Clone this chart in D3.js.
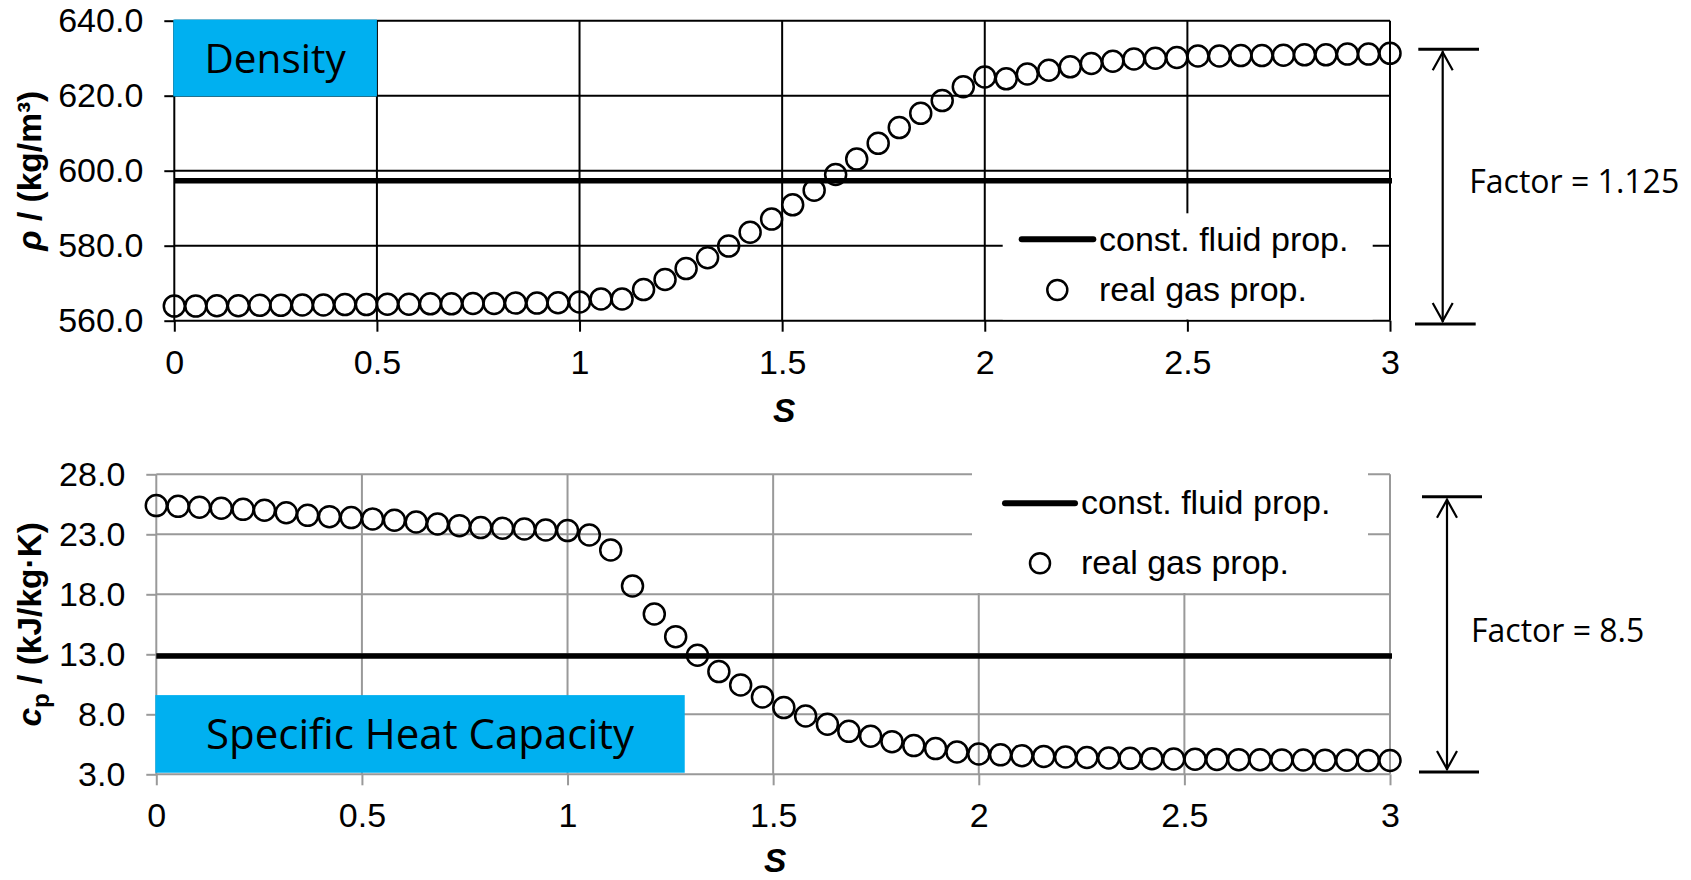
<!DOCTYPE html>
<html><head><meta charset="utf-8">
<script src="https://cdn.jsdelivr.net/npm/d3@7"></script>
<style>body{margin:0;background:#fff}svg{display:block}</style>
</head><body><svg id="c" width="1691" height="880"></svg>
<script>
// ---------------- data ----------------
const sValues = [0, 0.053, 0.105, 0.158, 0.211, 0.263, 0.316, 0.368, 0.421, 0.474,
  0.526, 0.579, 0.632, 0.684, 0.737, 0.789, 0.842, 0.895, 0.947, 1,
  1.053, 1.105, 1.158, 1.211, 1.263, 1.316, 1.368, 1.421, 1.474, 1.526,
  1.579, 1.632, 1.684, 1.737, 1.789, 1.842, 1.895, 1.947, 2,
  2.053, 2.105, 2.158, 2.211, 2.263, 2.316, 2.368, 2.421, 2.474, 2.526,
  2.579, 2.632, 2.684, 2.737, 2.789, 2.842, 2.895, 2.947, 3];
const densityValues = [563.9, 563.9, 564.0, 564.0, 564.1, 564.1, 564.2, 564.2, 564.3, 564.3,
  564.4, 564.4, 564.5, 564.5, 564.6, 564.6, 564.7, 564.7, 564.8, 565.0,
  565.8, 565.8, 568.3, 571.0, 573.9, 576.8, 579.9, 583.6, 587.1, 590.9,
  594.8, 599.0, 603.1, 607.3, 611.5, 615.3, 618.7, 622.4, 625.0,
  624.5, 625.8, 626.8, 627.7, 628.6, 629.2, 629.8, 630.0, 630.2, 630.6,
  630.6, 630.7, 630.7, 630.8, 630.9, 630.9, 631.1, 631.1, 631.3];
const cpValues = [25.39, 25.33, 25.25, 25.17, 25.08, 25.0, 24.8, 24.58, 24.47, 24.39,
  24.28, 24.17, 24.03, 23.86, 23.72, 23.56, 23.5, 23.44, 23.36, 23.31,
  22.94, 21.69, 18.69, 16.36, 14.47, 12.92, 11.56, 10.44, 9.44, 8.56,
  7.86, 7.17, 6.58, 6.17, 5.72, 5.39, 5.14, 4.86, 4.69,
  4.62, 4.55, 4.49, 4.44, 4.40, 4.36, 4.33, 4.30, 4.28, 4.26,
  4.24, 4.22, 4.21, 4.20, 4.19, 4.18, 4.17, 4.16, 4.15];
const densityConst = 597.3;
const cpConst = 12.86;
const xTicks = [0, 0.5, 1, 1.5, 2, 2.5, 3];
const densityTicks = [560, 580, 600, 620, 640];
const cpTicks = [3, 8, 13, 18, 23, 28];
const legendLabels = ["const. fluid prop.", "real gas prop."];
const densityTitle = "Density";
const cpTitle = "Specific Heat Capacity";
const densityFactor = "Factor = 1.125";
const cpFactor = "Factor = 8.5";
const densityBand = [559.12, 632.37];
const cpBand = [3.19, 26.13];
const densityBox = [[0, 0.5], [619.8, 640.3]];
const cpBox = [[0, 1.285], [3.13, 9.6]];

// ---------------- drawing ----------------
const svg = d3.select("#c");
const SANS = "'Liberation Sans', Arial, sans-serif";
const CAL = "'Open Sans', 'Noto Sans', sans-serif";
const FS = 34;

function panel(o) {
  const x = d3.scaleLinear().domain([0, 3]).range([o.left, o.right]);
  const y = d3.scaleLinear().domain(o.yDomain).range([o.bottom, o.top]);
  const g = svg.append("g");

  // gridlines
  g.append("g").selectAll("line").data(o.yTicks).join("line")
    .attr("x1", o.left).attr("x2", o.right)
    .attr("y1", d => y(d)).attr("y2", d => y(d))
    .attr("stroke", o.grid).attr("stroke-width", 2);
  g.append("g").selectAll("line").data(xTicks).join("line")
    .attr("y1", o.top).attr("y2", o.bottom)
    .attr("x1", d => x(d)).attr("x2", d => x(d))
    .attr("stroke", o.grid).attr("stroke-width", 2);

  // axes (outer ticks + labels)
  const ya = g.append("g").attr("transform", `translate(${o.left},0)`)
    .call(d3.axisLeft(y).tickValues(o.yTicks).tickSize(10).tickPadding(21).tickFormat(d3.format(".1f")));
  const xa = g.append("g").attr("transform", `translate(0,${o.bottom})`)
    .call(d3.axisBottom(x).tickValues(xTicks).tickSize(11).tickPadding(18).tickFormat(d3.format("")));
  [ya, xa].forEach(a => {
    a.select(".domain").remove();
    a.attr("font-family", SANS).attr("font-size", FS);
    a.selectAll("line").attr("stroke", o.grid).attr("stroke-width", 2);
    a.selectAll("text").attr("fill", "#000");
  });

  // constant line
  g.append("line")
    .attr("x1", x(0)).attr("x2", x(3) + 2)
    .attr("y1", y(o.constVal)).attr("y2", y(o.constVal))
    .attr("stroke", "#000").attr("stroke-width", 5.5);

  // real gas points
  g.append("g").selectAll("circle").data(sValues.map((s, i) => [s, o.values[i]])).join("circle")
    .attr("cx", d => x(d[0])).attr("cy", d => y(d[1])).attr("r", 10.5)
    .attr("fill", "none").attr("stroke", "#000").attr("stroke-width", 2.5);

  // legend
  const L = o.legend;
  g.append("rect").attr("x", L.box[0]).attr("y", L.box[1])
    .attr("width", L.box[2] - L.box[0]).attr("height", L.box[3] - L.box[1]).attr("fill", "#fff");
  g.append("line").attr("x1", L.line[0]).attr("x2", L.line[1]).attr("y1", L.line[2]).attr("y2", L.line[2])
    .attr("stroke", "#000").attr("stroke-width", 6).attr("stroke-linecap", "round");
  g.append("circle").attr("cx", L.circ[0]).attr("cy", L.circ[1]).attr("r", 10)
    .attr("fill", "none").attr("stroke", "#000").attr("stroke-width", 2.5);
  g.selectAll("text.leg").data(legendLabels).join("text").attr("class", "leg")
    .attr("x", L.textX).attr("y", (d, i) => L.textY[i])
    .attr("font-family", SANS).attr("font-size", FS).attr("fill", "#000").text(d => d);

  // title box
  const bx0 = x(o.box[0][0]) - 1, bx1 = x(o.box[0][1]);
  const by0 = y(o.box[1][1]), by1 = y(o.box[1][0]);
  g.append("rect").attr("x", bx0).attr("y", by0).attr("width", bx1 - bx0).attr("height", by1 - by0)
    .attr("fill", "#00B0F0");
  g.append("text").attr("x", (bx0 + bx1) / 2).attr("y", (by0 + by1) / 2 + 15)
    .attr("text-anchor", "middle").attr("font-family", CAL).attr("font-size", o.titleSize)
    .attr("fill", "#000").text(o.title);

  // factor annotation
  const A = o.ann;
  const yT = y(o.band[1]), yB = y(o.band[0]);
  g.append("line").attr("x1", o.right + A.capT[0]).attr("x2", o.right + A.capT[1])
    .attr("y1", yT).attr("y2", yT).attr("stroke", "#000").attr("stroke-width", 3);
  g.append("line").attr("x1", o.right + A.capB[0]).attr("x2", o.right + A.capB[1])
    .attr("y1", yB).attr("y2", yB).attr("stroke", "#000").attr("stroke-width", 3);
  const ax = o.right + A.arrow;
  g.append("line").attr("x1", ax).attr("x2", ax).attr("y1", yT + 2).attr("y2", yB - 2)
    .attr("stroke", "#000").attr("stroke-width", 2.2);
  g.append("path").attr("d", `M${ax - 10},${yT + 21}L${ax},${yT + 3}L${ax + 10},${yT + 21}M${ax - 10},${yB - 21}L${ax},${yB - 3}L${ax + 10},${yB - 21}`)
    .attr("fill", "none").attr("stroke", "#000").attr("stroke-width", 2.2);
  g.append("text").attr("x", o.right + A.textX).attr("y", A.textY)
    .attr("font-family", CAL).attr("font-size", 32).attr("fill", "#000").text(o.factor);

  // axis titles
  g.append("text").attr("x", (o.left + o.right) / 2 + 2).attr("y", o.bottom + o.xTitleDy)
    .attr("text-anchor", "middle").attr("font-family", SANS).attr("font-size", 33.5)
    .attr("font-weight", "bold").attr("font-style", "italic").attr("fill", "#000").text("S");
  const yt = g.append("text")
    .attr("transform", `translate(41,${(o.top + o.bottom) / 2}) rotate(-90)`)
    .attr("text-anchor", "middle").attr("font-family", SANS).attr("font-size", 33.5)
    .attr("font-weight", "bold").attr("fill", "#000");
  o.yTitle(yt);
}

panel({
  left: 174.3, right: 1390, top: 20.7, bottom: 320.7,
  yDomain: [560, 640], yTicks: densityTicks, grid: "#000",
  values: densityValues, constVal: densityConst,
  legend: { box: [1002.7, 213.3, 1372.7, 319.5], line: [1021.7, 1093.3, 239.3],
            circ: [1057.3, 290], textX: 1099, textY: [250.7, 300.5] },
  box: densityBox, title: densityTitle, titleSize: 40.5,
  band: densityBand, factor: densityFactor,
  ann: { capT: [28.3, 89], capB: [25, 85.7], arrow: 52.7, textX: 79.3, textY: 193.4 },
  xTitleDy: 101,
  yTitle: t => {
    t.append("tspan").attr("font-style", "italic").text("ρ");
    t.append("tspan").text(" / (kg/m³)");
  }
});

panel({
  left: 156.3, right: 1390, top: 474.3, bottom: 774.3,
  yDomain: [3, 28], yTicks: cpTicks, grid: "#999",
  values: cpValues, constVal: cpConst,
  legend: { box: [972, 472, 1368, 593], line: [1005, 1075, 503.3],
            circ: [1040, 563.3], textX: 1081, textY: [514, 573.5] },
  box: cpBox, title: cpTitle, titleSize: 42,
  band: cpBand, factor: cpFactor,
  ann: { capT: [32, 92], capB: [29, 89], arrow: 57, textX: 81, textY: 641.5 },
  xTitleDy: 98,
  yTitle: t => {
    t.append("tspan").attr("font-style", "italic").text("c");
    t.append("tspan").attr("font-size", 24).attr("dy", 8).text("p");
    t.append("tspan").attr("dy", -8).text(" / (kJ/kg·K)");
  }
});
</script>
</body></html>
